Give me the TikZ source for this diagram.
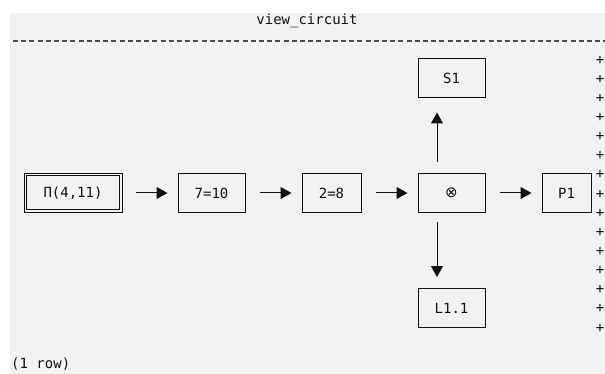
\documentclass[tikz,border=0pt]{standalone}
\usepackage{fontspec}
\setmonofont{DejaVu Sans Mono}
\newfontfamily\symfont{DejaVu Sans}
\usetikzlibrary{arrows.meta}
\definecolor{bggray}{HTML}{F2F2F2}
\definecolor{ink}{HTML}{111111}
\tikzset{
  mono/.style={font=\ttfamily\fontsize{14}{16}\selectfont, text=ink, inner sep=0pt},
  box/.style={mono, draw=ink, line width=1pt, minimum height=39pt},
  flow/.style={draw=ink, line width=1pt, -{Triangle[length=11pt,width=12pt]}},
}
\begin{document}
\begin{tikzpicture}[x=1pt,y=-1pt]
\useasboundingbox (0,0) rectangle (605,374);
\fill[bggray] (10,13) rectangle (605,374);
\node[mono] (title) at (307,21) {view\_circuit};
\draw[ink!75, line width=1.1pt, dash pattern=on 5pt off 3.2pt] (13,41) -- (605,41);

\node[box, minimum width=98pt] (pi) at (73,193) {П(4,11)};
\draw[ink, line width=1pt] ([shift={(3pt,3pt)}]pi.south west) rectangle ([shift={(-3pt,-3pt)}]pi.north east);
\node[box, minimum width=67pt] (a) at (211.5,193) {7=10};
\node[box, minimum width=59pt] (b) at (331.5,193) {2=8};
\node[box, minimum width=67pt, font=\symfont\fontsize{15}{16}\selectfont] (c) at (451.5,193) {⊗};
\node[box, minimum width=49pt] (p) at (566.5,193) {P1};
\node[box, minimum width=67pt] (s) at (451.5,78.5) {S1};
\node[box, minimum width=67pt] (l) at (451.5,308) {L1.1};

\draw[flow, shorten <=13pt, shorten >=10pt] (pi) -- (a);
\draw[flow, shorten <=14pt, shorten >=10pt] (a) -- (b);
\draw[flow, shorten <=14pt, shorten >=10pt] (b) -- (c);
\draw[flow, shorten <=14pt, shorten >=10pt] (c) -- (p);
\draw[flow, shorten <=11pt, shorten >=14pt] ([xshift=-14.5pt]c.north) -- ([xshift=-14.5pt]s.south);
\draw[flow, shorten <=9pt, shorten >=11pt] ([xshift=-14.5pt]c.south) -- ([xshift=-14.5pt]l.north);

\foreach \i in {0,...,14} {
  \node[mono] (plus\i) at (600,{60+\i*19.15}) {+};
}
\node[mono, anchor=west] (rows) at (11,364) {(1 row)};
\end{tikzpicture}
\end{document}
